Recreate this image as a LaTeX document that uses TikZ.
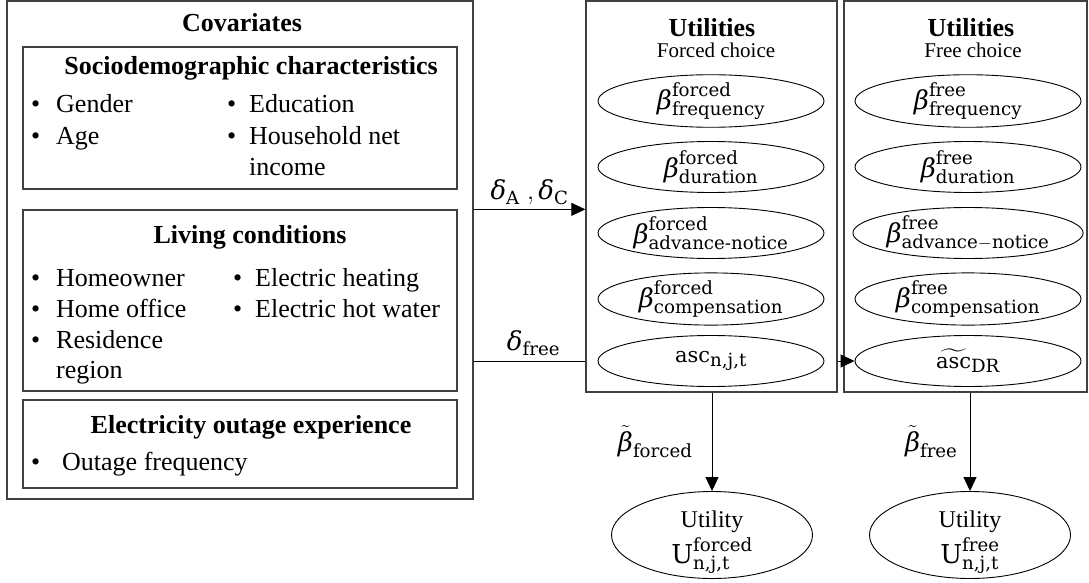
\RequirePackage{fix-cm}
\documentclass[tikz,border=0pt]{standalone}
\usepackage{amsmath}
\usepackage{fontspec}
\setmainfont{Liberation Serif}
\newfontfamily\mathtextfont{DejaVu Serif}
\usetikzlibrary{shapes.geometric,arrows.meta}

% upright labels inside formulas
\newcommand\up[1]{\text{\mathtextfont #1}}
% italic Greek letters in the same face
\newcommand\bb{\text{\mathtextfont\itshape β}}
\newcommand\dd{\text{\mathtextfont\itshape δ}}
% the "asc" constant, a little smaller than the Greek letters
\newcommand\asc{\text{\fontsize{21}{21}\selectfont\mathtextfont asc}}
% bullet item: bullet, gap, text
\newcommand\bul[2][25pt]{\makebox[#1][l]{•}#2}

\tikzset{
  box/.style={draw=black!75, line width=1.3pt, rectangle, inner sep=0pt},
  txt/.style={inner sep=0pt, font=\fontsize{26}{30}\selectfont},
  small/.style={inner sep=0pt, font=\fontsize{21}{24}\selectfont},
  head/.style={inner sep=0pt, font=\fontsize{26}{30}\selectfont\bfseries},
  param/.style={draw, ellipse, line width=0.9pt, inner sep=0pt,
    minimum width=226pt, minimum height=51pt, font=\fontsize{26}{30}\selectfont},
  util/.style={draw, ellipse, line width=0.9pt, inner sep=0pt,
    minimum width=201pt, minimum height=87pt},
  link/.style={line width=1pt},
  arr/.style={line width=1pt, -{Triangle[length=14pt,width=13pt]}},
  lab/.style={inner sep=0pt, font=\fontsize{26}{30}\selectfont},
  ulab/.style={inner sep=0pt, font=\fontsize{24}{30}\selectfont}
}

\begin{document}
\begin{tikzpicture}[x=1pt,y=-1pt]
\useasboundingbox (0,0) rectangle (1089,583);

% ---- covariates ----
\node[box, minimum width=466pt, minimum height=498pt] (cov) at (240,250) {};
\node[head, anchor=base] (covt) at (242,32) {Covariates};

\node[box, minimum width=434pt, minimum height=142pt] (socio) at (240,118) {};
\node[head, anchor=base] (sociot) at (251,75) {Sociodemographic characteristics};
\node[txt, anchor=base west] (s1) at (31,113) {\bul{Gender}};
\node[txt, anchor=base west] (s2) at (31,145) {\bul{Age}};
\node[txt, anchor=base west] (s3) at (227,113) {\bul[22pt]{Education}};
\node[txt, anchor=base west] (s4) at (227,145) {\bul[22pt]{Household net}};
\node[txt, anchor=base west] (s5) at (249,175) {income};

\node[box, minimum width=434pt, minimum height=181pt] (living) at (240,300.5) {};
\node[head, anchor=base] (livingt) at (250,243) {Living conditions};
\node[txt, anchor=base west] (l1) at (31,286) {\bul{Homeowner}};
\node[txt, anchor=base west] (l2) at (31,317) {\bul{Home office}};
\node[txt, anchor=base west] (l3) at (31,348) {\bul{Residence}};
\node[txt, anchor=base west] (l4) at (56,378) {region};
\node[txt, anchor=base west] (l5) at (233,286) {\bul[22pt]{Electric heating}};
\node[txt, anchor=base west] (l6) at (233,317) {\bul[22pt]{Electric hot water}};

\node[box, minimum width=434pt, minimum height=88pt] (outage) at (240,444) {};
\node[head, anchor=base] (outaget) at (251,433) {Electricity outage experience};
\node[txt, anchor=base west] (o1) at (31,470) {\bul[31pt]{Outage frequency}};

% ---- forced choice utilities ----
\node[box, minimum width=251pt, minimum height=391pt] (forced) at (711.5,196.5) {};
\node[head, anchor=base] (forcedt) at (712,37) {Utilities};
\node[small, anchor=base] (forceds) at (716,58) {Forced choice};
\node[param] (f1) at (711,101) {$\bb^{\up{forced}}_{\up{frequency}}$};
\node[param] (f2) at (711,167) {$\bb^{\up{forced}}_{\up{duration}}$};
\node[param] (f3) at (711,233) {$\bb^{\up{forced}}_{\up{advance-notice}}$};
\node[param] (f4) at (711,299) {$\bb^{\up{forced}}_{\up{compensation}}$};
\node[param] (fasc) at (711,361) {$\asc_{\up{n,j,t}}$};

% ---- free choice utilities ----
\node[box, minimum width=243pt, minimum height=391pt] (free) at (965.5,196.5) {};
\node[head, anchor=base] (freet) at (971,37) {Utilities};
\node[small, anchor=base] (frees) at (973,58) {Free choice};
\node[param] (r1) at (968,101) {$\bb^{\up{free}}_{\up{frequency}}$};
\node[param] (r2) at (968,167) {$\bb^{\up{free}}_{\up{duration}}$};
\node[param] (r3) at (968,233) {$\bb^{\up{free}}_{\up{advance}{-}\up{notice}}$};
\node[param] (r4) at (968,299) {$\bb^{\up{free}}_{\up{compensation}}$};
\node[param] (rasc) at (968,361) {$\widetilde{\asc}_{\up{DR}}$};

% ---- overall utilities ----
\node[util] (uf) at (712,535) {};
\node[ulab, anchor=base] (uft) at ([yshift=8pt]uf.center) {Utility};
\node[lab, anchor=base] (ufu) at ([yshift=-28pt]uf.center) {$\up{U}^{\up{forced}}_{\up{n,j,t}}$};
\node[util] (ur) at (970,535) {};
\node[ulab, anchor=base] (urt) at ([yshift=8pt]ur.center) {Utility};
\node[lab, anchor=base] (uru) at ([yshift=-28pt]ur.center) {$\up{U}^{\up{free}}_{\up{n,j,t}}$};

% ---- connectors ----
\draw[arr] (cov.east |- living.north) -- node[lab, above=4pt] (dac) {$\dd_{\up{A}}\;{,}\,\dd_{\up{C}}$} (forced.west |- living.north);
\draw[link] (cov.east |- fasc) -- node[lab, above=5pt, xshift=4pt] (dfree) {$\dd_{\up{free}}$} (forced.west |- fasc);
\draw[arr] (forced.east |- rasc) -- (rasc.west);
\draw[arr] (forced.south -| uf) -- node[lab, left=19pt] (bf) {$\tilde{\bb}_{\up{forced}}$} (uf.north);
\draw[arr] (free.south -| ur) -- node[lab, left=12pt] (br) {$\tilde{\bb}_{\up{free}}$} (ur.north);
\end{tikzpicture}
\end{document}
